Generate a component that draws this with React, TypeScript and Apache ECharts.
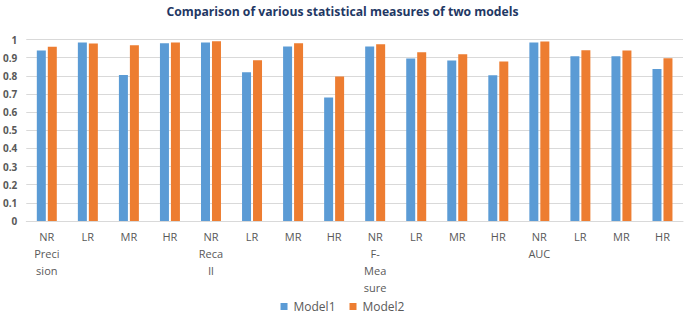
import React, { useEffect, useRef } from "react";
import * as echarts from "echarts";

const categories = [
  "NR\nPreci\nsion", "LR", "MR", "HR",
  "NR\nReca\nll", "LR", "MR", "HR",
  "NR\nF-\nMea\nsure", "LR", "MR", "HR",
  "NR\nAUC", "LR", "MR", "HR",
];
const model1 = [0.939, 0.983, 0.805, 0.98, 0.983, 0.82, 0.961, 0.68, 0.961, 0.895, 0.884, 0.803, 0.983, 0.908, 0.908, 0.838];
const model2 = [0.96, 0.978, 0.969, 0.983, 0.991, 0.886, 0.98, 0.796, 0.974, 0.93, 0.919, 0.879, 0.989, 0.941, 0.939, 0.897];
const yTicks = [0, 0.1, 0.2, 0.3, 0.4, 0.5, 0.6, 0.7, 0.8, 0.9, 1];

export default function App() {
  const ref = useRef<HTMLDivElement>(null);
  useEffect(() => {
    if (!ref.current) return;
    const chart = echarts.init(ref.current, undefined, { renderer: "svg" });
    chart.setOption({
      animation: false,
      backgroundColor: "#ffffff",
      title: {
        text: "Comparison of various statistical measures of two models",
        left: "center",
        top: 0,
        textStyle: { fontFamily: "Open Sans", fontWeight: "bold", fontSize: 12.2, color: "#1F3864" },
      },
      legend: {
        top: 299,
        left: "center",
        padding: 0,
        itemWidth: 7,
        itemHeight: 7,
        itemGap: 14,
        icon: "rect",
        textStyle: { fontFamily: "Open Sans", fontSize: 12, lineHeight: 15, color: "#595959", padding: [0, 0, 0, 1] },
        data: ["Model1", "Model2"],
      },
      grid: { left: 24, right: 2, top: 39.5, bottom: 94, containLabel: false },
      xAxis: {
        type: "category",
        data: categories,
        axisTick: { show: false },
        axisLine: { lineStyle: { color: "#d9d9d9", width: 1 } },
        axisLabel: {
          interval: 0,
          margin: 7,
          fontFamily: "Open Sans",
          fontSize: 11,
          lineHeight: 17,
          color: "#595959",
        },
      },
      yAxis: {
        type: "value",
        min: 0,
        max: 1,
        interval: 0.1,
        axisLine: { show: false },
        axisTick: { show: false },
        splitLine: { lineStyle: { color: "#d9d9d9", width: 1 } },
        axisLabel: {
          margin: 9,
          fontFamily: "Open Sans",
          fontWeight: "bold",
          fontSize: 10,
          color: "#595959",
          formatter: (v: number) => {
            const t = yTicks.find((x) => Math.abs(x - v) < 1e-6);
            return t === undefined ? "" : String(t);
          },
        },
      },
      series: [
        { name: "Model1", type: "bar", data: model1, barWidth: 9, barGap: "22%", itemStyle: { color: "#5B9BD5" } },
        { name: "Model2", type: "bar", data: model2, barWidth: 9, itemStyle: { color: "#ED7D31" } },
      ],
    });
    return () => chart.dispose();
  }, []);
  return <div ref={ref} style={{ width: 685, height: 315, position: "absolute", left: 0, top: 0 }} />;
}
